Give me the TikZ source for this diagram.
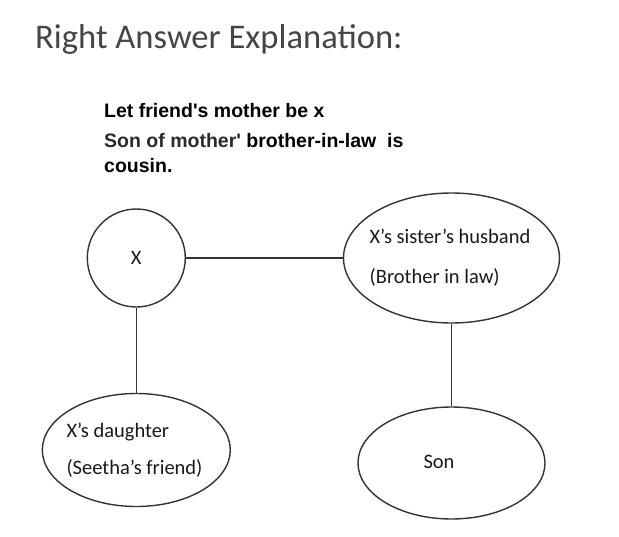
\documentclass[tikz,border=0pt]{standalone}
\usepackage{fontspec}
\setmainfont{Carlito}
\newfontfamily\arialfont{Liberation Sans}
\usetikzlibrary{shapes.geometric}
\definecolor{titlegray}{HTML}{454545}
\definecolor{linegray}{HTML}{333333}
\definecolor{notegray}{HTML}{2A2A2A}

\begin{document}
\begin{tikzpicture}[x=1pt,y=-1pt,
    person/.style={draw=linegray,line width=1.4pt,inner sep=0pt},
    note/.style={anchor=base west,inner sep=0pt,font=\arialfont\bfseries\fontsize{19.5}{24}\selectfont},
    who/.style={inner sep=0pt,align=left,text=black!90},
    link/.style={draw=linegray,line width=1.4pt}]
    \useasboundingbox (0,0) rectangle (619,536);
    % --- heading and the short explanation
    \node[anchor=base west,inner sep=0pt,text=titlegray,font=\fontsize{34.6}{40}\selectfont] (title) at (35,48) {Right Answer Explanation:};
    \node[note] (line1) at (104,117) {Let friend's mother be x};
    \node[note] (line2) at (104,147) {\textcolor{notegray}{Son of mother'} brother-in-law\ \ is};
    \node[note] (line3) at (104,172) {cousin.};
    % --- family members
    \node[person,circle,minimum size=98pt,font=\fontsize{20.5}{24}\selectfont,text=black!90] (x) at (136.3,258) {X};
    \node[person,ellipse,minimum width=216pt,minimum height=130pt] (bil) at (451.5,258) {};
    \node[person,ellipse,minimum width=188pt,minimum height=113pt] (dau) at (136.3,450) {};
    \node[person,ellipse,minimum width=187pt,minimum height=112pt] (son) at (451.5,463) {};
    \node[who,font=\fontsize{20.5}{40}\selectfont] (biltext) at (450,258) {X's sister's husband\\(Brother in law)};
    \node[who,font=\fontsize{20.5}{37}\selectfont] (dautext) at (134.5,450.5) {X's daughter\\(Seetha's friend)};
    \node[who,font=\fontsize{20.5}{24}\selectfont] (sontext) at (439,462) {Son};
    % --- relations
    \draw[link] (x.east) -- (bil.west);
    \draw[link] (x.south) -- (dau.north);
    \draw[link] (bil.south) -- (son.north);
\end{tikzpicture}
\end{document}
